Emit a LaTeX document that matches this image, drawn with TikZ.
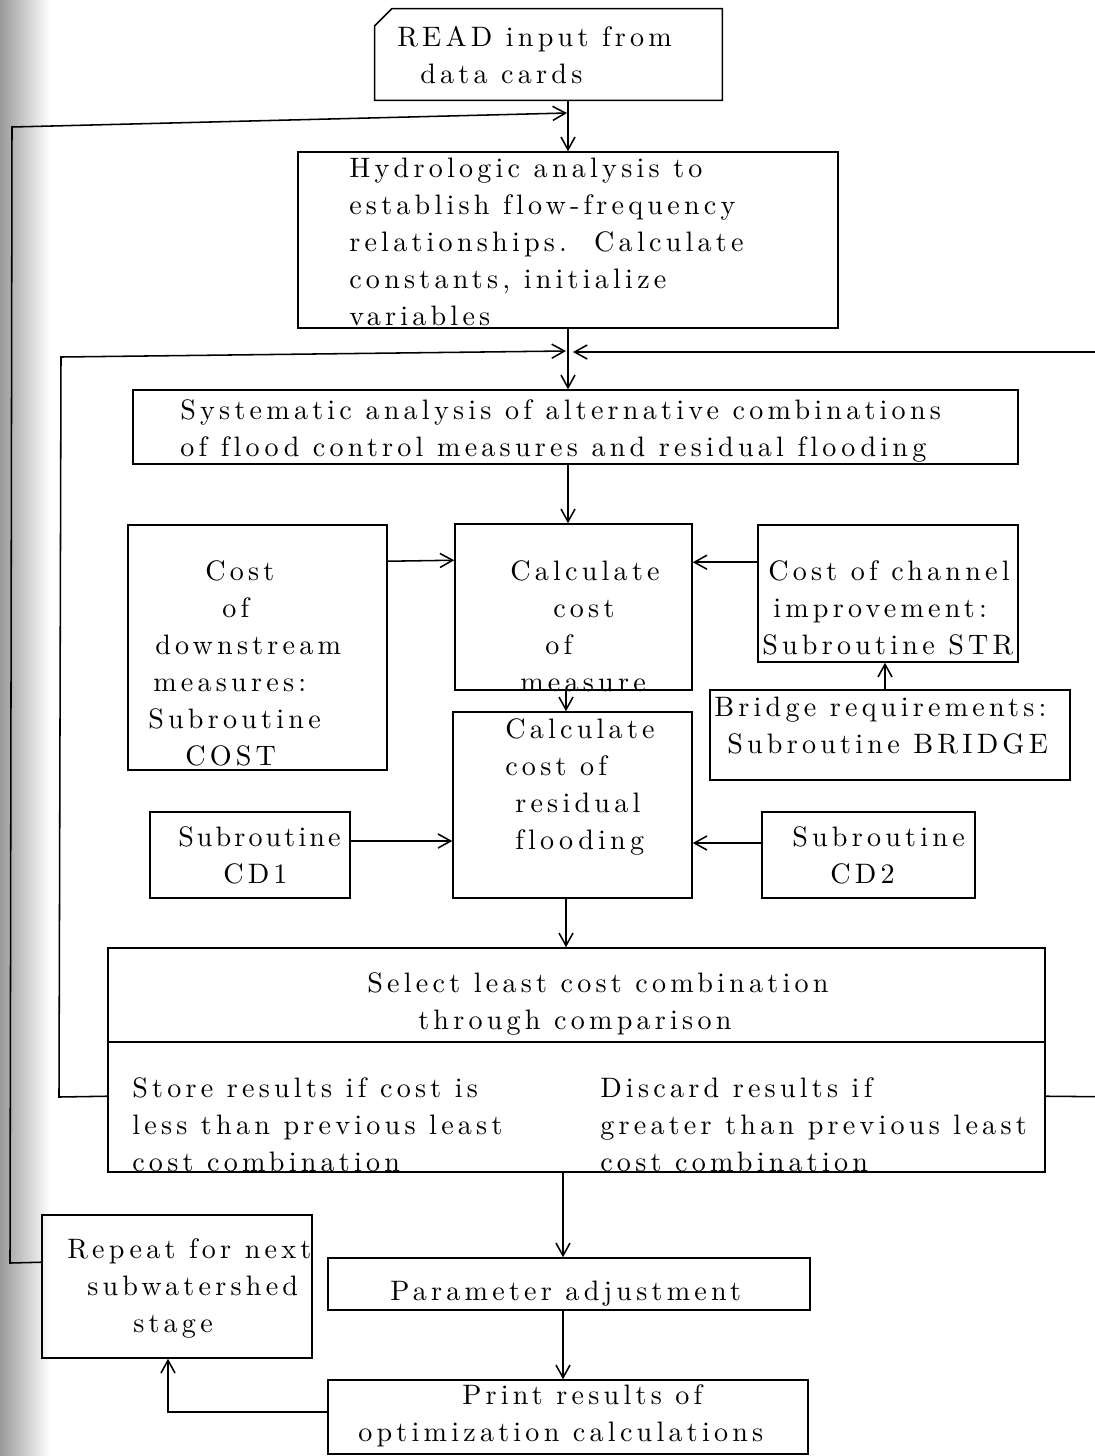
\documentclass[tikz,border=0pt]{standalone}
\usepackage{fontspec}
\setmainfont{lmroman10-regular.otf}[LetterSpace=15,Ligatures={CommonOff,TeXOff}]
\usetikzlibrary{arrows.meta,calc}
\newlength\upx \setlength\upx{0.025cm}
\begin{document}
\begin{tikzpicture}[x=0.025cm,y=-0.025cm,
  box/.style={draw,line width=1.1pt,inner sep=0pt},
  txt/.style={anchor=base west,align=left,inner sep=0pt,font=\fontsize{20}{26.3}\selectfont},
  wire/.style={line width=1.1pt},
  arr/.style={line width=1.1pt,-{Straight Barb[length=9pt,width=10pt,line width=1.1pt]}}]
\useasboundingbox (0,0) rectangle (1094,1456);
\shade[left color=black!40,right color=white] (0,0) rectangle (50,1456);

% boxes
\node[minimum width=347\upx,minimum height=91\upx,inner sep=0pt] (read) at (548.5,54.5) {};
\draw[line width=1.1pt] (read.south west) -- ($(read.north west)+(0,17)$) -- ($(read.north west)+(17,0)$) -- (read.north east) -- (read.south east) -- cycle;
\node[box,minimum width=540\upx,minimum height=176\upx] (hyd) at (568,240) {};
\node[box,minimum width=885\upx,minimum height=74\upx] (sys) at (575.5,427) {};
\node[box,minimum width=259\upx,minimum height=245\upx] (costd) at (257.5,647.5) {};
\node[box,minimum width=237\upx,minimum height=166\upx] (calcm) at (573.5,607) {};
\node[box,minimum width=239\upx,minimum height=186\upx] (calcr) at (572.5,805) {};
\node[box,minimum width=260\upx,minimum height=137\upx] (chan) at (888,593.5) {};
\node[box,minimum width=360\upx,minimum height=90\upx] (bridge) at (890,735) {};
\node[box,minimum width=200\upx,minimum height=86\upx] (cd1) at (250,855) {};
\node[box,minimum width=213\upx,minimum height=86\upx] (cd2) at (868.5,855) {};
\node[box,minimum width=937\upx,minimum height=94\upx] (selT) at (576.5,995) {};
\node[box,minimum width=937\upx,minimum height=130\upx] (selB) at (576.5,1107) {};
\node[box,minimum width=270\upx,minimum height=143\upx] (rep) at (177,1286.5) {};
\node[box,minimum width=482\upx,minimum height=52\upx] (param) at (569,1284) {};
\node[box,minimum width=480\upx,minimum height=74\upx] (print) at (568,1417) {};

% texts (anchor = baseline of the last line)
\node[txt] (readT) at (397,83) {READ input from\\\hspace*{23\upx}data cards};
\node[txt] (hydT) at (349,325) {Hydrologic analysis to\\establish flow-frequency\\relationships.\ \ Calculate\\constants, initialize\\variables};
\node[txt] (sysT) at (180,456) {Systematic analysis of alternative combinations\\of flood control measures and residual flooding};
\node[txt] (costdT) at (148,765) {\hspace*{57\upx}Cost\\\hspace*{74\upx}of\\\hspace*{7\upx}downstream\\\hspace*{5\upx}measures:\\Subroutine\\\hspace*{37\upx}COST};
\node[txt] (calcmT) at (510,691) {Calculate\\\hspace*{43\upx}cost\\\hspace*{35\upx}of\\\hspace*{10\upx}measure};
\node[txt] (calcrT) at (505,849) {Calculate\\cost of\\\hspace*{10\upx}residual\\\hspace*{10\upx}flooding};
\node[txt] (chanT) at (762,654) {\hspace*{6\upx}Cost of channel\\\hspace*{11\upx}improvement:\\Subroutine STR};
\node[txt] (bridgeT) at (714,753) {Bridge requirements:\\\hspace*{13\upx}Subroutine BRIDGE};
\node[txt] (cd1T) at (178,883) {\addfontfeatures{LetterSpace=11}Subroutine\\\hspace*{45\upx}CD1};
\node[txt] (cd2T) at (792,883) {Subroutine\\\hspace*{38\upx}CD2};
\node[txt] (selTT) at (367,1029) {Select least cost combination\\\hspace*{51\upx}through comparison};
\node[txt] (storeT) at (132,1171) {Store results if cost is\\less than previous least\\cost combination};
\node[txt] (discT) at (600,1171) {Discard results if\\greater than previous least\\cost combination};
\node[txt] (repT) at (67,1332) {Repeat for next\\\hspace*{20\upx}subwatershed\\\hspace*{66\upx}stage};
\node[txt] (paramT) at (390,1300) {Parameter adjustment};
\node[txt] (printT) at (358,1441) {\hspace*{104\upx}Print results of\\optimization calculations};

% junction points on the main line
\coordinate (jA) at (567,113);
\coordinate (jB) at (566,351);
\coordinate (jC) at (573,352);

% connectors
\draw[arr] (read.south -| hyd.north) -- (hyd.north);
\draw[arr] ($(rep.north west)+(0,48)$) -- (10,1263) -- (12,127) -- (jA);
\draw[arr] (hyd.south) -- (hyd.south |- sys.north);
\draw[arr] ($(selB.north west)+(0,55)$) -- (59,1097) -- (61,357) -- (jB);
\draw[arr] ($(selB.north east)+(0,55)$) -- (1130,1097) -- (1130,352) -- (jC);
\draw[arr] (sys.south -| hyd.south) -- (hyd.south |- calcm.north);
\draw[arr] ($(costd.north east)+(0,37)$) -- ($(calcm.north west)+(0,37)$);
\draw[arr] ($(chan.north west)+(0,38)$) -- ($(calcm.north east)+(0,39)$);
\draw[arr] (bridge.north -| 885,0) -- (chan.south -| 885,0);
\draw[arr] (calcm.south -| 566,0) -- (calcr.north -| 566,0);
\coordinate (cdA) at ($(cd1.east)+(0,-14)$);
\draw[arr] (cdA) -- (cdA -| calcr.west);
\coordinate (cdB) at ($(cd2.west)+(0,-12)$);
\draw[arr] (cdB) -- (cdB -| calcr.east);
\draw[arr] (calcr.south -| 566,0) -- (selT.north -| 566,0);
\draw[arr] (selB.south -| 563,0) -- (param.north -| 563,0);
\draw[arr] (param.south -| 563,0) -- (print.north -| 563,0);
\draw[arr] ($(print.west)+(0,-5)$) -| ($(rep.south)+(-9,0)$);
\end{tikzpicture}
\end{document}
